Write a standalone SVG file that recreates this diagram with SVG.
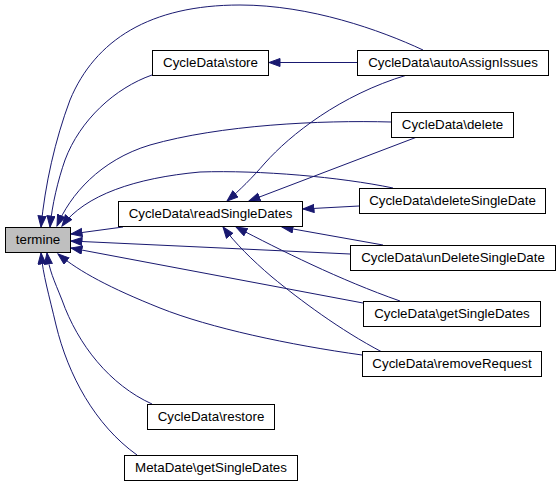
<svg xmlns="http://www.w3.org/2000/svg" width="560" height="486" viewBox="0 0 560 486">
<style>
.n rect{fill:#ffffff;stroke:#000000;stroke-width:1}
.n text{font-family:"Liberation Sans",Arial,sans-serif;font-size:13.33px;text-anchor:middle;fill:#000000}
#edges path{fill:none;stroke:#191970;stroke-width:1;marker-end:url(#ah)}
</style>
<defs>
<marker id="ah" markerUnits="userSpaceOnUse" markerWidth="14" markerHeight="11" refX="11.5" refY="4.5" orient="auto">
<path d="M0.5,0.5 L11.5,4.5 L0.5,8.5 Z" fill="#191970" stroke="#191970" stroke-width="1"/>
</marker>
</defs>
<rect width="560" height="486" fill="#ffffff"/>
<g id="edges">
<path d="M423,50 C380,30 310,5 240,5 C150,5 95,40 70,100 C55,140 45,185 41,227"/>
<path d="M152,75 C115,88 80,120 65,160 C58,180 52,205 50,227"/>
<path d="M391,122 C320,120 220,125 150,145 C100,160 70,195 57,226"/>
<path d="M393,188 C340,177 260,170 200,172 C135,178 85,195 62,226"/>
<path d="M123,227 L71,234"/>
<path d="M350,254 L71,241"/>
<path d="M363,303 L71,248"/>
<path d="M362,355 C290,345 210,328 160,308 C110,288 80,272 58,254"/>
<path d="M152,404 C110,385 78,345 62,300 C54,280 49,270 47,253"/>
<path d="M137,455 C95,425 68,375 56,325 C49,295 43,275 41,253"/>
<path d="M357,62.5 L269,62.5"/>
<path d="M407,75 C340,95 290,135 265,163 C252,178 240,190 227,201"/>
<path d="M417,137 L249,201"/>
<path d="M359,206 L303,209"/>
<path d="M383,245 L282,227"/>
<path d="M400,301 C340,280 280,250 236,227"/>
<path d="M382,352 C340,330 300,300 272,277 C252,260 235,243 223,227"/>
</g>
<g id="termine" class="n"><rect x="5.5" y="227.5" width="65" height="25" style="fill:#bfbfbf"/><text x="38" y="244">termine</text></g>
<g id="store" class="n"><rect x="152.5" y="50.5" width="116" height="25"/><text x="210.5" y="67">CycleData\store</text></g>
<g id="readSingleDates" class="n"><rect x="118.5" y="201.5" width="184" height="25"/><text x="210.5" y="218">CycleData\readSingleDates</text></g>
<g id="autoAssignIssues" class="n"><rect x="357.5" y="50.5" width="191" height="25"/><text x="453" y="67">CycleData\autoAssignIssues</text></g>
<g id="delete" class="n"><rect x="391.5" y="112.5" width="122" height="25"/><text x="452.5" y="129">CycleData\delete</text></g>
<g id="deleteSingleDate" class="n"><rect x="359.5" y="188.5" width="186" height="25"/><text x="452.5" y="205">CycleData\deleteSingleDate</text></g>
<g id="unDeleteSingleDate" class="n"><rect x="350.5" y="245.5" width="205" height="25"/><text x="453" y="262">CycleData\unDeleteSingleDate</text></g>
<g id="getSingleDates" class="n"><rect x="363.5" y="301.5" width="177" height="25"/><text x="452" y="318">CycleData\getSingleDates</text></g>
<g id="removeRequest" class="n"><rect x="362.5" y="351.5" width="179" height="25"/><text x="452" y="368">CycleData\removeRequest</text></g>
<g id="restore" class="n"><rect x="147.5" y="404.5" width="127" height="25"/><text x="211" y="421">CycleData\restore</text></g>
<g id="metaGetSingleDates" class="n"><rect x="124.5" y="455.5" width="173" height="25"/><text x="211" y="472">MetaDate\getSingleDates</text></g>
</svg>
